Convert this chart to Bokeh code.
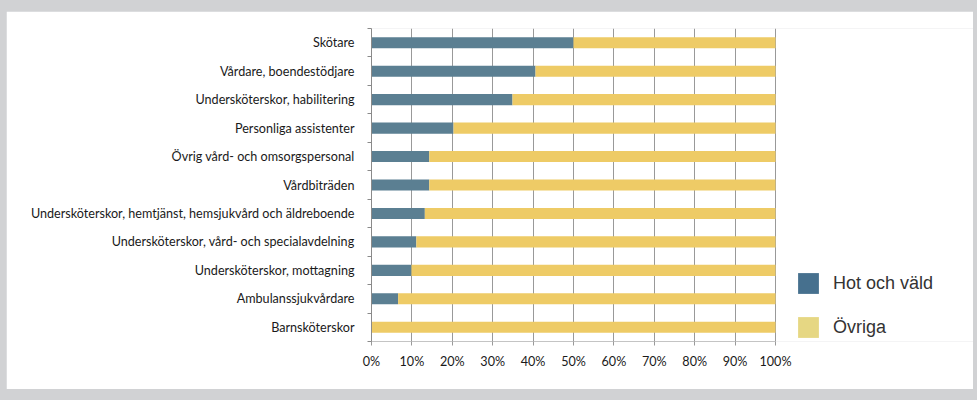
from bokeh.plotting import figure
from bokeh.models import (ColumnDataSource, Range1d, FixedTicker, PrintfTickFormatter,
                          Legend, LegendItem, GlobalInlineStyleSheet)
from bokeh.embed import file_html
from bokeh.resources import INLINE

categories = [
    "Skötare",
    "Vårdare, boendestödjare",
    "Undersköterskor, habilitering",
    "Personliga assistenter",
    "Övrig vård- och omsorgspersonal",
    "Vårdbiträden",
    "Undersköterskor, hemtjänst, hemsjukvård och äldreboende",
    "Undersköterskor, vård- och specialavdelning",
    "Undersköterskor, mottagning",
    "Ambulanssjukvårdare",
    "Barnsköterskor",
]
hot_och_vald = [50.0, 40.6, 34.9, 20.3, 14.3, 14.3, 13.2, 11.1, 9.9, 6.6, 0.0]
ovriga = [50.0, 59.4, 65.1, 79.7, 85.7, 85.7, 86.8, 88.9, 90.1, 93.4, 100.0]
series_labels = ["Hot och väld", "Övriga"]
x_ticks = [0, 10, 20, 30, 40, 50, 60, 70, 80, 90, 100]

BAR_BLUE = "#5b7f92"
BAR_YELLOW = "#eecb66"
LEG_BLUE = "#46708e"
LEG_YELLOW = "#e6d783"
LABEL_FONT = "Lato"
LABEL_SIZE = "12.6px"

# layout (pixels)
FIG_W, FIG_H = 967, 378
BORDER_L, BORDER_T, BORDER_B = 365, 17, 48
PLOT_W = 404          # pixel width of the 0-100 % span
FRAME_W = FIG_W - BORDER_L
x_end = 100.0 * FRAME_W / PLOT_W

n = len(categories)
ypos = [n - i - 0.5 for i in range(n)]
src = ColumnDataSource(dict(y=ypos, hot=hot_och_vald, ovr=ovriga, cat=categories))

p = figure(width=FIG_W, height=FIG_H, x_range=Range1d(0, x_end), y_range=Range1d(0, n),
           output_backend="svg", toolbar_location=None,
           min_border_left=BORDER_L, min_border_right=0, min_border_top=BORDER_T,
           min_border_bottom=BORDER_B)
p.margin = (11, 0, 0, 6)
p.stylesheets = [GlobalInlineStyleSheet(css="body { background: #d1d2d4; }")]
p.background_fill_color = "white"
p.border_fill_color = "white"
p.outline_line_color = None

p.hbar_stack(["hot", "ovr"], y="y", height=0.39, fill_color=[BAR_BLUE, BAR_YELLOW],
             line_color=None, source=src)

# legend swatch renderers (zero-height, only used for the legend colours)
r1 = p.hbar(y="y", right="hot", height=0, fill_color=LEG_BLUE, line_color=None, source=src)
r2 = p.hbar(y="y", right="ovr", height=0, fill_color=LEG_YELLOW, line_color=None, source=src)

# grid
p.ygrid.visible = False
p.xgrid.ticker = FixedTicker(ticks=x_ticks, minor_ticks=[])
p.xgrid.grid_line_color = "#999999"
p.xgrid.grid_line_width = 1

# x axis
xa = p.xaxis[0]
xa.bounds = (0, 100)
xa.ticker = FixedTicker(ticks=x_ticks, minor_ticks=[])
xa.formatter = PrintfTickFormatter(format="%d%%")
xa.axis_line_color = "#c4c4c4"
xa.major_tick_line_color = "#999999"
xa.major_tick_out = 4
xa.major_tick_in = 0
xa.minor_tick_line_color = None
xa.major_label_standoff = 8
xa.major_label_text_font = LABEL_FONT
xa.major_label_text_font_size = LABEL_SIZE
xa.major_label_text_color = "#1a1a1a"

# y axis: labels at centres, ticks at boundaries
ya = p.yaxis[0]
ya.ticker = FixedTicker(ticks=ypos, minor_ticks=list(range(n + 1)))
ya.major_label_overrides = {y: c for y, c in zip(ypos, categories)}
ya.axis_line_color = "#8a8a8a"
ya.major_tick_out = 0
ya.major_tick_in = 0
ya.minor_tick_out = 4
ya.minor_tick_in = 0
ya.minor_tick_line_color = "#8a8a8a"
ya.major_label_standoff = 13
ya.major_label_text_font = LABEL_FONT
ya.major_label_text_font_size = LABEL_SIZE
ya.major_label_text_color = "#1a1a1a"

legend = Legend(items=[LegendItem(label=series_labels[0], renderers=[r1]),
                       LegendItem(label=series_labels[1], renderers=[r2])],
                location=(PLOT_W + 20, 1), orientation="vertical",
                glyph_width=26, glyph_height=26, label_standoff=12, spacing=18,
                padding=0, margin=0, border_line_color=None, background_fill_alpha=0,
                label_text_font="Liberation Sans", label_text_font_size="18px",
                label_text_color="#333333")
p.add_layout(legend, "center")

open("out.html", "w").write(file_html(p, INLINE))
